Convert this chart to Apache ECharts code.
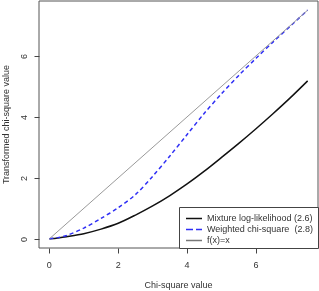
<!DOCTYPE html>
<html>
<head>
<meta charset="utf-8">
<script src="https://cdn.jsdelivr.net/npm/echarts@6/dist/echarts.min.js"></script>
<style>html,body{margin:0;padding:0;background:#fff}#c{width:319px;height:291px}</style>
</head>
<body>
<div id="c"></div>
<script>
const xValues = [0, 0.25, 0.5, 1, 1.5, 2, 2.5, 3, 3.5, 4, 4.5, 5, 5.5, 6, 6.5, 7, 7.5];
const mixtureLL = [0, 0.03, 0.07, 0.17, 0.32, 0.51, 0.78, 1.08, 1.42, 1.80, 2.22, 2.67, 3.13, 3.61, 4.11, 4.63, 5.18];
const weightedChi = [0, 0.04, 0.11, 0.35, 0.67, 1.02, 1.45, 2.05, 2.72, 3.42, 4.12, 4.76, 5.36, 5.92, 6.46, 6.98, 7.5];
const identityX = [0, 7.5];
const tickValues = [0, 2, 4, 6];
const seriesNames = ['Mixture log-likelihood (2.6)', 'Weighted chi-square  (2.8)', 'f(x)=x'];

const pairs = (xs, ys) => xs.map((x, i) => [x, ys[i]]);
const font = 'Liberation Sans, Arial, sans-serif';
const solidIcon = 'path://M0,0h16v1.5h-16z';
const dashIcon = 'path://M0,0h7v1.5h-7zM10,0h6v1.5h-6z';
const chart = echarts.init(document.getElementById('c'), null, {renderer: 'canvas'});
chart.setOption({
  animation: false,
  grid: {left: 39, right: 1, top: 1, bottom: 43, outerBoundsMode: 'none', containLabel: false, show: true, borderColor: '#555', borderWidth: 1, backgroundColor: 'transparent'},
  xAxis: {
    type: 'value', min: -0.3, max: 7.8,
    name: 'Chi-square value', nameLocation: 'middle', nameGap: 33,
    nameTextStyle: {fontFamily: font, fontSize: 9, color: '#333'},
    axisLine: {show: false, onZero: false},
    splitLine: {show: false},
    axisTick: {show: false},
    axisLabel: {margin: 13, fontFamily: font, fontSize: 9, color: '#333', customValues: tickValues}
  },
  yAxis: {
    type: 'value', min: -0.3, max: 7.8,
    name: 'Transformed chi-square value', nameLocation: 'middle', nameGap: 28, nameRotate: 90,
    nameTextStyle: {fontFamily: font, fontSize: 9, color: '#333'},
    axisLine: {show: false, onZero: false},
    splitLine: {show: false},
    axisTick: {show: false},
    axisLabel: {show: false}
  },
  legend: {
    orient: 'vertical', left: 186, top: 214, itemWidth: 16, itemHeight: 8, itemGap: 2, padding: 0, z: 60,
    textStyle: {fontFamily: font, fontSize: 9, color: '#333'},
    data: [
      {name: seriesNames[0], icon: solidIcon},
      {name: seriesNames[1], icon: dashIcon},
      {name: seriesNames[2], icon: solidIcon}
    ]
  },
  series: [
    {name: seriesNames[0], type: 'line', smooth: 0.3, symbol: 'none', data: pairs(xValues, mixtureLL), lineStyle: {color: '#111', width: 1.5}, itemStyle: {color: '#111'}},
    {name: seriesNames[1], type: 'line', smooth: 0.3, symbol: 'none', data: pairs(xValues, weightedChi), lineStyle: {color: '#2f2ff5', width: 1.5, type: [4, 3]}, itemStyle: {color: '#2f2ff5'}},
    {name: seriesNames[2], type: 'line', symbol: 'none', data: pairs(identityX, identityX), lineStyle: {color: '#999', width: 1}, itemStyle: {color: '#777'}}
  ]
});

// Tick marks and rotated y tick labels, placed through the chart's own axis scales
const rect = chart.getModel().getComponent('grid').coordinateSystem.getRect();
const gx = Math.round(rect.x) + 0.5;
const gy = Math.round(rect.y + rect.height) + 0.5;
const elements = [];
tickValues.forEach(v => {
  const py = Math.round(chart.convertToPixel({yAxisIndex: 0}, v)) + 0.5;
  const px = Math.round(chart.convertToPixel({xAxisIndex: 0}, v)) + 0.5;
  elements.push({type: 'line', shape: {x1: gx - 5, y1: py, x2: gx, y2: py}, style: {stroke: '#444', lineWidth: 1}, silent: true});
  elements.push({type: 'line', shape: {x1: px, y1: gy, x2: px, y2: gy + 5}, style: {stroke: '#444', lineWidth: 1}, silent: true});
  elements.push({type: 'text', x: gx - 15, y: py, rotation: Math.PI / 2, silent: true,
    style: {text: String(v), x: 0, y: 0, align: 'center', verticalAlign: 'middle', font: '9px ' + font, fill: '#333'}});
});
elements.push({type: 'rect', shape: {x: 179.5, y: 207.5, width: 139, height: 41}, style: {fill: '#fff', stroke: '#444', lineWidth: 1}, z: 50, silent: true});
chart.setOption({graphic: elements});
</script>
</body>
</html>
